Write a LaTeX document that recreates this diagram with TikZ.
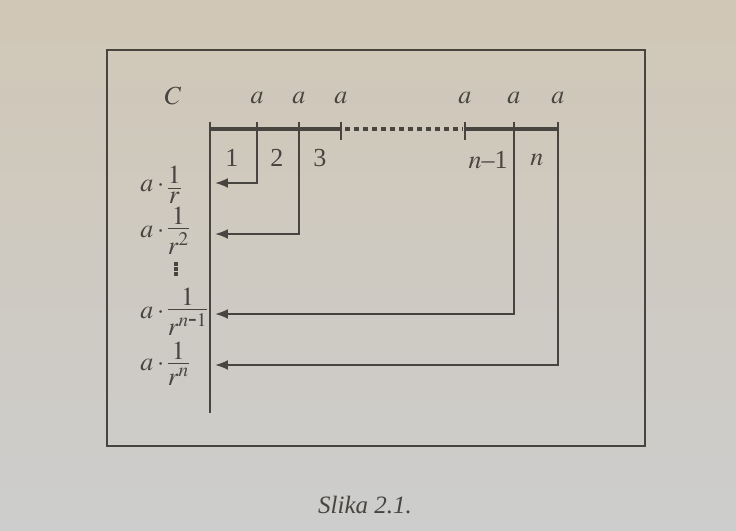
\documentclass[tikz,border=0pt]{standalone}
\usepackage{mathptmx}
\usepackage{fontspec}
\setmainfont{Liberation Serif}
\usetikzlibrary{arrows.meta}
\definecolor{ink}{RGB}{72,68,64}
\definecolor{pagetop}{RGB}{208,199,182}
\definecolor{pagebot}{RGB}{205,205,205}
\newcommand{\tightfrac}[2]{\vcenter{\offinterlineskip\halign{\hfil$##$\hfil\cr
  #1\cr\noalign{\kern1.8pt\hrule height0.5pt\kern1.8pt}#2\cr}}}
\tikzset{
  axis line/.style={ink, line width=2pt},
  lead line/.style={ink, line width=1pt},
  tick mark/.style={ink, line width=1pt},
  back arrow/.style={ink, line width=1pt, -{Latex[length=6.5pt,width=5pt]}},
  lbl/.style={text=ink, inner sep=0pt, font=\fontsize{13}{15}\selectfont}
}

\begin{document}
\begin{tikzpicture}[x=0.5pt,y=-0.5pt]
\shade[top color=pagetop, bottom color=pagebot] (0,0) rectangle (736,531);
\useasboundingbox (0,0) rectangle (736,531);

% okvir
\draw[ink, line width=1.3pt] (107,50) rectangle (645,446);

% os i podjela na razdoblja
\coordinate (top) at (210,122);
\coordinate (bot) at (210,413);
\coordinate (o) at (210,129);
\foreach \x/\nm in {257/t1, 299/t2, 341/t3, 465/tm, 514/tn1, 558/tn}
  \coordinate (\nm) at (\x,129);

\draw[lead line] (top) -- (bot);
\draw[axis line] (o) -- (t3);
\draw[axis line, dash pattern=on 2.5pt off 2pt] ([xshift=2pt]t3) -- ([xshift=-1pt]tm);
\draw[axis line] (tm) -- (tn);
\draw[tick mark] ([yshift=3.5pt]t3) -- ([yshift=-5.5pt]t3);
\draw[tick mark] ([yshift=3.5pt]tm) -- ([yshift=-5.5pt]tm);

% iznosi a iznad osi
\node[lbl] (C) at (173,96) {$C$};
\foreach \nm in {t1, t2, t3, tm, tn1, tn}
  \node[lbl] (a-\nm) at ([yshift=15.5pt]\nm) {$a$};

% redni brojevi razdoblja
\node[lbl] (s1) at (232,158) {1};
\node[lbl] (s2) at (277,158) {2};
\node[lbl] (s3) at (320,158) {3};
\node[lbl] (sn1) at (488,160) {$n$--1};
\node[lbl] (sn) at (537,160) {$n$};

% diskontirane vrijednosti
\node[lbl, anchor=west] (lab1) at (140,185) {$a\cdot\tightfrac{1}{r}$};
\node[lbl, anchor=west] (lab2) at (140,231) {$a\cdot\tightfrac{1}{r^{2}}$};
\node[lbl, anchor=west] (labn1) at (140,312) {$a\cdot\tightfrac{1}{r^{n\mbox{-}1}}$};
\node[lbl, anchor=west] (labn) at (140,364) {$a\cdot\tightfrac{1}{r^{n}}$};

% tockice izmedu
\coordinate (dots) at (176,269);
\foreach \dy in {-5,0,5}
  \fill[ink] ([shift={(-1.6,\dy-1.6)}]dots) rectangle ([shift={(1.6,\dy+1.6)}]dots);

\coordinate (e1) at (215,183);
\coordinate (e2) at (215,234);
\coordinate (en1) at (215,314);
\coordinate (en) at (215,365);

\draw[back arrow] ([yshift=3.5pt]t1) |- (e1);
\draw[back arrow] ([yshift=3.5pt]t2) |- (e2);
\draw[back arrow] ([yshift=3.5pt]tn1) |- (en1);
\draw[back arrow] ([yshift=3.5pt]tn) |- (en);

\node[text=ink, font=\itshape\fontsize{12.5}{15}\selectfont] (cap) at (365,505) {Slika 2.1.};
\end{tikzpicture}
\end{document}
